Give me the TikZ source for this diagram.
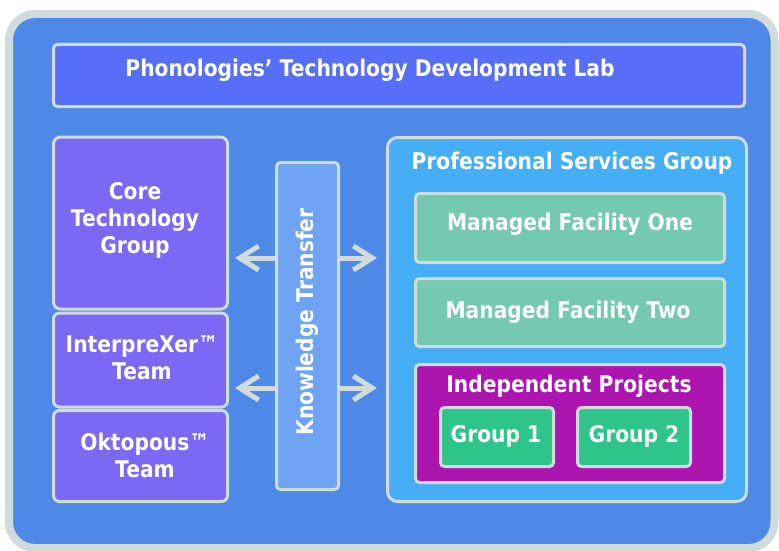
\documentclass[tikz,border=0pt]{standalone}
\usepackage{fontspec}
\setmainfont[FakeStretch=0.88]{DejaVu Sans}
\usetikzlibrary{arrows.meta}

\definecolor{framegray}{HTML}{D0DCDC}
\definecolor{bgblue}{HTML}{4F89E8}
\definecolor{titleblue}{HTML}{566EF8}
\definecolor{teampurple}{HTML}{7B68F5}
\definecolor{ktblue}{HTML}{6FA3F3}
\definecolor{psgblue}{HTML}{46AEF7}
\definecolor{facgreen}{HTML}{74C9B0}
\definecolor{projmagenta}{HTML}{AD15B0}
\definecolor{grpgreen}{HTML}{2FC48A}

\tikzset{
  box/.style={draw=framegray, line width=3pt, rounded corners=4pt, inner sep=0pt},
  lbl/.style={text=white, font=\fontsize{23}{27}\selectfont\bfseries, align=center},
  ktarrow/.style={draw=framegray, line width=5pt, -{Straight Barb[length=19pt,width=24pt]}}
}

\begin{document}
\begin{tikzpicture}[x=1pt,y=-1pt]
            \useasboundingbox (0,0) rectangle (779,551);
            \fill[white] (0,0) rectangle (779,551);
            \draw[line width=8pt, draw=framegray, fill=bgblue, rounded corners=26pt] (9,14) rectangle (774.5,548);

            \node[box, fill=titleblue, minimum width=691pt, minimum height=62pt] (lab) at (399,75.5) {};
            \node[lbl] (labtxt) at (370,70) {Phonologies’ Technology Development Lab};

            \node[box, fill=teampurple, rounded corners=7pt, minimum width=174pt, minimum height=172pt] (core) at (140.5,223) {};
            \node[box, fill=teampurple, rounded corners=6pt, minimum width=174pt, minimum height=94pt] (interp) at (140.5,360) {};
            \node[box, fill=teampurple, rounded corners=6pt, minimum width=174pt, minimum height=91pt] (okto) at (140.5,456) {};
            \node[lbl] (coretxt) at (135,220) {Core\\Technology\\Group};
            \node[lbl] (interptxt) at (142,358) {InterpreXer™\\Team};
            \node[lbl] (oktotxt) at (145,455) {Oktopous™\\Team};

            \node[box, fill=ktblue, minimum width=62pt, minimum height=327pt] (kt) at (307.5,326) {};
            \node[lbl, rotate=90] (kttxt) at (307,322) {Knowledge Transfer};

            \node[box, fill=psgblue, rounded corners=10pt, minimum width=359pt, minimum height=364pt] (psg) at (567,319.5) {};
            \node[lbl] (psgtxt) at (572,163) {Professional Services Group};

            \node[box, fill=facgreen, minimum width=309pt, minimum height=69pt] (mfone) at (570,228) {};
            \node[lbl] (mfonetxt) at (570,224) {Managed Facility One};
            \node[box, fill=facgreen, minimum width=309pt, minimum height=68pt] (mftwo) at (570,312.5) {};
            \node[lbl] (mftwotxt) at (568,312) {Managed Facility Two};

            \node[box, fill=projmagenta, minimum width=309pt, minimum height=118pt] (indep) at (570,423.5) {};
            \node[lbl] (indeptxt) at (569,386) {Independent Projects};
            \node[box, fill=grpgreen, minimum width=113pt, minimum height=59pt] (grpone) at (497,437) {};
            \node[lbl] (grponetxt) at (496,436) {Group 1};
            \node[box, fill=grpgreen, minimum width=113pt, minimum height=59pt] (grptwo) at (634,437) {};
            \node[lbl] (grptwotxt) at (634,436) {Group 2};

            \coordinate (tipleftup) at (235,258);
            \coordinate (tipleftdown) at (235,388);
            \coordinate (tiprightup) at (377,258);
            \coordinate (tiprightdown) at (377,388);

            \draw[ktarrow] (kt.west |- tipleftup) -- (tipleftup);
            \draw[ktarrow] (kt.west |- tipleftdown) -- (tipleftdown);
            \draw[ktarrow] (kt.east |- tiprightup) -- (tiprightup);
            \draw[ktarrow] (kt.east |- tiprightdown) -- (tiprightdown);
        \end{tikzpicture}
\end{document}
